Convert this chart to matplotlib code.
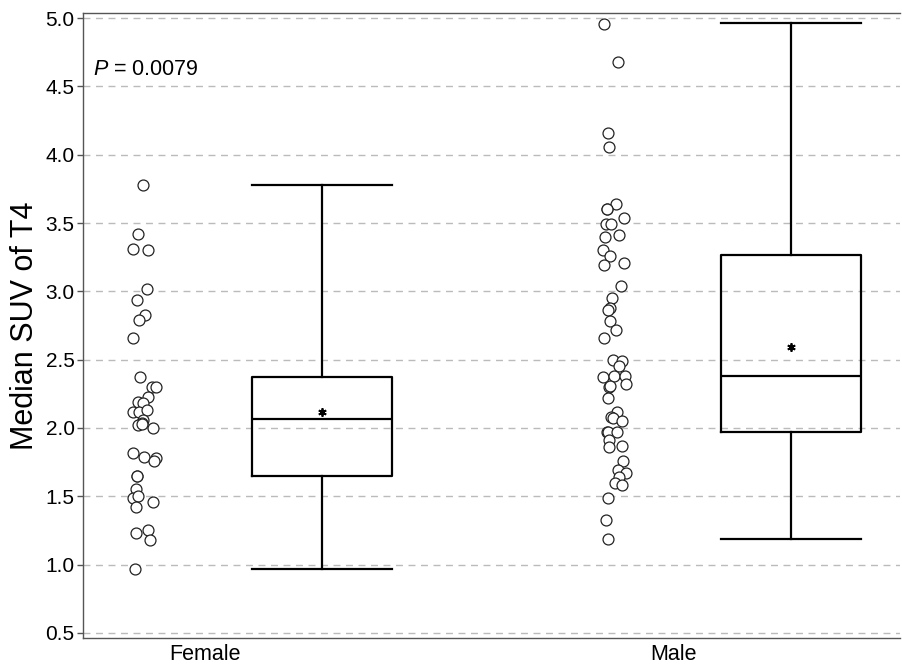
import numpy as np
import matplotlib
matplotlib.use('Agg')
from matplotlib import pyplot as plt

plt.rcParams['font.family'] = ['Liberation Sans', 'DejaVu Sans']
plt.rcParams['mathtext.fontset'] = 'custom'
plt.rcParams['mathtext.it'] = 'Liberation Sans:italic'
plt.rcParams['mathtext.rm'] = 'Liberation Sans'

groups = ['Female', 'Male']

female_vals = [3.78, 3.42, 3.31, 3.30, 3.02, 2.94, 2.83, 2.79, 2.66, 2.375,
               2.30, 2.30, 2.23, 2.19, 2.18, 2.12, 2.12, 2.13, 2.06, 2.04,
               2.02, 2.03, 2.00, 1.82, 1.79, 1.78, 1.76, 1.65, 1.65, 1.55,
               1.49, 1.50, 1.46, 1.42, 1.25, 1.23, 1.18, 0.97]
female_jit = [0.001, -0.010, -0.021, 0.011, 0.008, -0.012, 0.004, -0.008,
              -0.021, -0.006, 0.019, 0.027, 0.010, -0.010, 0.001, -0.021,
              -0.008, 0.008, 0.001, -0.003, -0.010, -0.003, 0.022, -0.021,
              0.003, 0.028, 0.023, -0.013, -0.013, -0.015, -0.021, -0.010,
              0.021, -0.015, 0.011, -0.015, 0.015, -0.016]

male_vals = [4.96, 4.68, 4.16, 4.06, 3.64, 3.60, 3.60, 3.54, 3.49, 3.49,
             3.41, 3.40, 3.30, 3.26, 3.19, 3.21, 3.04, 2.95, 2.88, 2.86,
             2.78, 2.72, 2.66, 2.50, 2.49, 2.45, 2.37, 2.38, 2.38, 2.32,
             2.30, 2.31, 2.22, 2.12, 2.08, 2.07, 2.05, 1.97, 1.97, 1.97,
             1.91, 1.86, 1.87, 1.76, 1.69, 1.67, 1.64, 1.60, 1.58, 1.49,
             1.33, 1.19]
male_jit = [-0.017, 0.013, -0.009, -0.006, 0.008, -0.011, -0.010, 0.026,
            -0.012, -0.001, 0.016, -0.015, -0.019, -0.003, -0.017, 0.026,
            0.020, 0.001, -0.004, -0.008, -0.004, 0.009, -0.017, 0.002,
            0.021, 0.016, -0.019, 0.004, 0.028, 0.030, -0.006, -0.003,
            -0.008, 0.011, -0.001, 0.002, 0.021, -0.010, -0.009, 0.010,
            -0.006, -0.006, 0.022, 0.024, 0.013, 0.030, 0.016, 0.006,
            0.022, -0.008, -0.013, -0.008]

# box summary: min, q1, median, q3, max, mean
box_min = [0.97, 1.19]
box_q1 = [1.65, 1.97]
box_med = [2.064, 2.38]
box_q3 = [2.375, 3.266]
box_max = [3.78, 4.966]
box_mean = [2.12, 2.59]

p_text = '0.0079'

fig = plt.figure(figsize=(9.02, 6.67), dpi=100)
ax = fig.add_axes([0.092, 0.0435, 0.906, 0.937])

strip_off = -0.132
box_off = 0.25
box_w = 0.30

for i, (vals, jit) in enumerate([(female_vals, female_jit),
                                 (male_vals, male_jit)]):
    x = i + strip_off + np.array(jit)
    ax.scatter(x, vals, s=62, facecolors='white', edgecolors='#222222',
               linewidths=0.9, zorder=3)

stats = []
for i in range(len(groups)):
    stats.append(dict(whislo=box_min[i], q1=box_q1[i], med=box_med[i],
                      q3=box_q3[i], whishi=box_max[i], mean=box_mean[i],
                      fliers=[]))

line = dict(color='black', linewidth=1.6)
ax.bxp(stats, positions=[i + box_off for i in range(len(groups))],
       widths=box_w, showmeans=True, showfliers=False,
       boxprops=line, whiskerprops=line, medianprops=line,
       capprops=line, capwidths=box_w,
       meanprops=dict(marker=(6, 2, 0), markersize=6,
                      markeredgecolor='black', markeredgewidth=1.3),
       manage_ticks=False, zorder=4)

ax.set_xlim(-0.26, 1.483)
ax.set_ylim(0.463, 5.037)
ax.set_yticks(np.arange(0.5, 5.01, 0.5))
ax.set_yticklabels(['%.1f' % v for v in np.arange(0.5, 5.01, 0.5)])
ax.set_xticks(range(len(groups)))
ax.set_xticklabels(groups)

ax.yaxis.grid(True, linestyle=(0, (5, 4)), color='#bbbbbb', linewidth=1.0)
ax.set_axisbelow(True)

ax.spines['right'].set_visible(False)
for side in ['left', 'top', 'bottom']:
    ax.spines[side].set_color('#555555')
    ax.spines[side].set_linewidth(1.0)

ax.tick_params(axis='y', length=4, width=1, color='#555555',
               labelsize=15, pad=2)
ax.tick_params(axis='x', length=0, labelsize=15.5, pad=4)

ax.set_ylabel('Median SUV of T4', fontsize=22, labelpad=4)

ax.text(-0.238, 4.62, r'$P$ = ' + p_text, fontsize=15.5,
        va='center', ha='left')

fig.savefig('out.png', dpi=100)
